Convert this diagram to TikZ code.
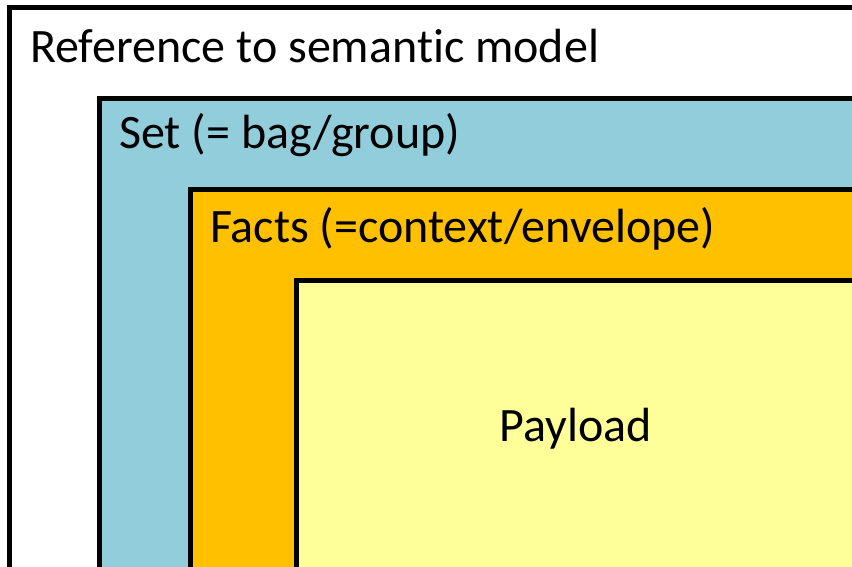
\documentclass[tikz,border=0pt]{standalone}
\usepackage{fontspec}
\setmainfont{Carlito}[Ligatures=NoCommon]
\definecolor{setblue}{HTML}{92CDDC}
\definecolor{factorange}{HTML}{FFC000}
\definecolor{payyellow}{HTML}{FFFF99}
\begin{document}
\begin{tikzpicture}[x=1pt,y=-1pt,
  layer/.style={draw=black,line width=5pt},
  lbl/.style={anchor=base west,inner sep=0pt,font=\fontsize{48}{56}\selectfont}]
\useasboundingbox (0,0) rectangle (852,566);
\clip (0,0) rectangle (852,566);
\fill[white] (0,0) rectangle (852,566);
\draw[layer,fill=white] (9.5,7.5) rectangle (900,620);
\draw[layer,fill=setblue] (99.5,98.5) rectangle (900,620);
\draw[layer,fill=factorange] (190.5,189.5) rectangle (900,620);
\draw[layer,fill=payyellow] (296.5,280.5) rectangle (900,620);
\node[lbl] (ref) at (30,62.5) {Reference to semantic model};
\node[lbl] (set) at (119,148.5) {Set (= bag/group)};
\node[lbl] (facts) at (210,242.5) {Facts (=context/envelope)};
\node[anchor=base,inner sep=0pt,font=\fontsize{48}{56}\selectfont] (pay) at (575.5,441) {Payload};
\end{tikzpicture}
\end{document}
